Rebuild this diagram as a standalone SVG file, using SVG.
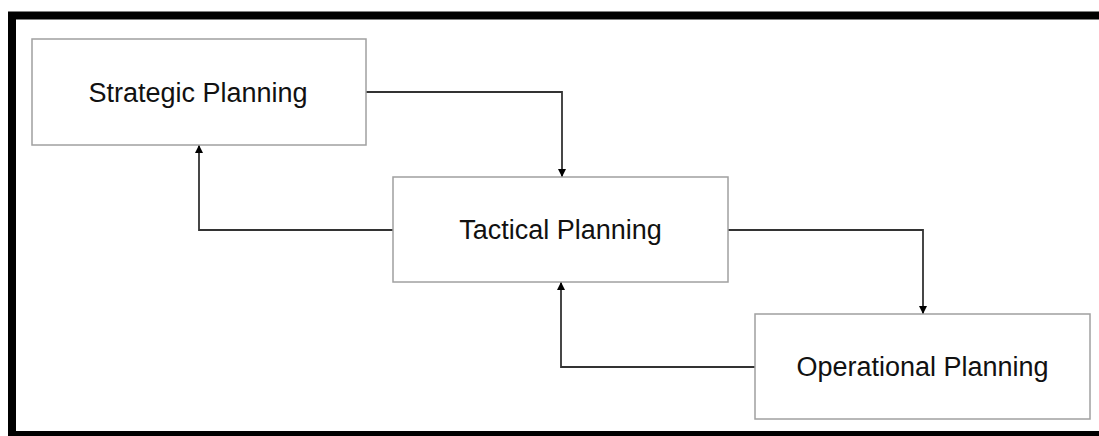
<svg xmlns="http://www.w3.org/2000/svg" width="1099" height="436" viewBox="0 0 1099 436">
<style>
.box{fill:#fff;stroke:#a0a0a0;stroke-width:1.5}
.lbl{font-family:"Liberation Sans",Arial,sans-serif;font-size:27px;fill:#111;text-anchor:middle;dominant-baseline:central}
.con{fill:none;stroke:#333;stroke-width:1.8;marker-end:url(#ah)}
</style>
<defs>
<marker id="ah" viewBox="0 0 10 10" refX="10" refY="5" markerWidth="9" markerHeight="8" markerUnits="userSpaceOnUse" orient="auto">
<path d="M0,0 L10,5 L0,10 z" fill="#000"/>
</marker>
</defs>
<rect width="1099" height="436" fill="#fff"/>
<path d="M12,436 V15.5 H1099" fill="none" stroke="#000" stroke-width="8"/>
<path d="M8,433.5 H1099" fill="none" stroke="#000" stroke-width="5"/>
<g id="connectors">
<path class="con" d="M366,92 H562 V177"/>
<path class="con" d="M728,230 H923 V314"/>
<path class="con" d="M393,230 H199 V145"/>
<path class="con" d="M755,367 H561 V282"/>
</g>
<g id="strategic">
<rect class="box" x="32" y="39" width="334" height="106"/>
<text class="lbl" x="198" y="93">Strategic Planning</text>
</g>
<g id="tactical">
<rect class="box" x="393" y="177" width="335" height="105"/>
<text class="lbl" x="560.5" y="230">Tactical Planning</text>
</g>
<g id="operational">
<rect class="box" x="755" y="314" width="335" height="105"/>
<text class="lbl" x="922.5" y="367">Operational Planning</text>
</g>
</svg>
